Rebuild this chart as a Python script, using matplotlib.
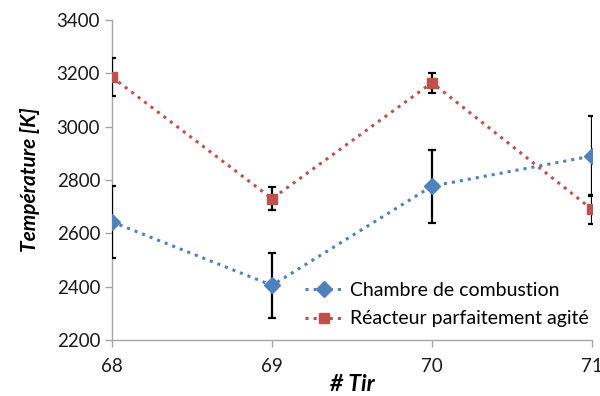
import matplotlib.pyplot as plt

# Shot numbers and temperatures
tirs = [68, 69, 70, 71]
chambre = [2643, 2405, 2777, 2890]
chambre_err = [135, 122, 137, 150]
reacteur = [3186, 2730, 3165, 2690]
reacteur_err = [70, 42, 37, 55]

blue = '#4F81BD'
red = '#C0504D'
grey = '#A6A6A6'

plt.rcParams['font.family'] = ['Lato', 'DejaVu Sans']

fig = plt.figure(figsize=(6, 3.96), dpi=100)
ax = fig.add_axes([0.1867, 0.1414, 0.80, 0.808])

ax.errorbar(tirs, chambre, yerr=chambre_err, color=blue, ls=':', lw=2.2,
            marker='D', ms=8, mec=blue, ecolor='black', elinewidth=1.6,
            capsize=3, capthick=1.6, label='Chambre de combustion', zorder=3)
ax.errorbar(tirs, reacteur, yerr=reacteur_err, color=red, ls=':', lw=2.2,
            marker='s', ms=7.5, mec=red, ecolor='black', elinewidth=1.6,
            capsize=3, capthick=1.6, label='Réacteur parfaitement agité', zorder=3)

ax.set_xlim(68, 71)
ax.set_ylim(2200, 3400)
ax.set_xticks(tirs)
ax.set_yticks(range(2200, 3401, 200))

for s in ['top', 'right']:
    ax.spines[s].set_visible(False)
for s in ['left', 'bottom']:
    ax.spines[s].set_color(grey)
    ax.spines[s].set_linewidth(1)
ax.spines['left'].set_zorder(1)
ax.tick_params(axis='both', colors=grey, labelcolor='#1a1a1a', labelsize=13.5,
               length=5, width=1)
ax.tick_params(axis='x', pad=8)

ax.set_ylabel('Température [K]', fontsize=15, fontweight='bold', style='italic',
              labelpad=12)
ax.set_xlabel('# Tir', fontsize=16.5, fontweight='bold', style='italic')
ax.xaxis.set_label_coords(0.5, -0.105)

# legend without error bars drawn in the handles
handles, labels = ax.get_legend_handles_labels()
handles = [h[0] for h in handles]
ax.legend(handles, labels, loc='lower left', bbox_to_anchor=(0.385, 0.015),
          frameon=False, fontsize=14, handlelength=2.0, handletextpad=0.35,
          labelspacing=0.6, borderaxespad=0)

fig.savefig('out.png', dpi=100)
